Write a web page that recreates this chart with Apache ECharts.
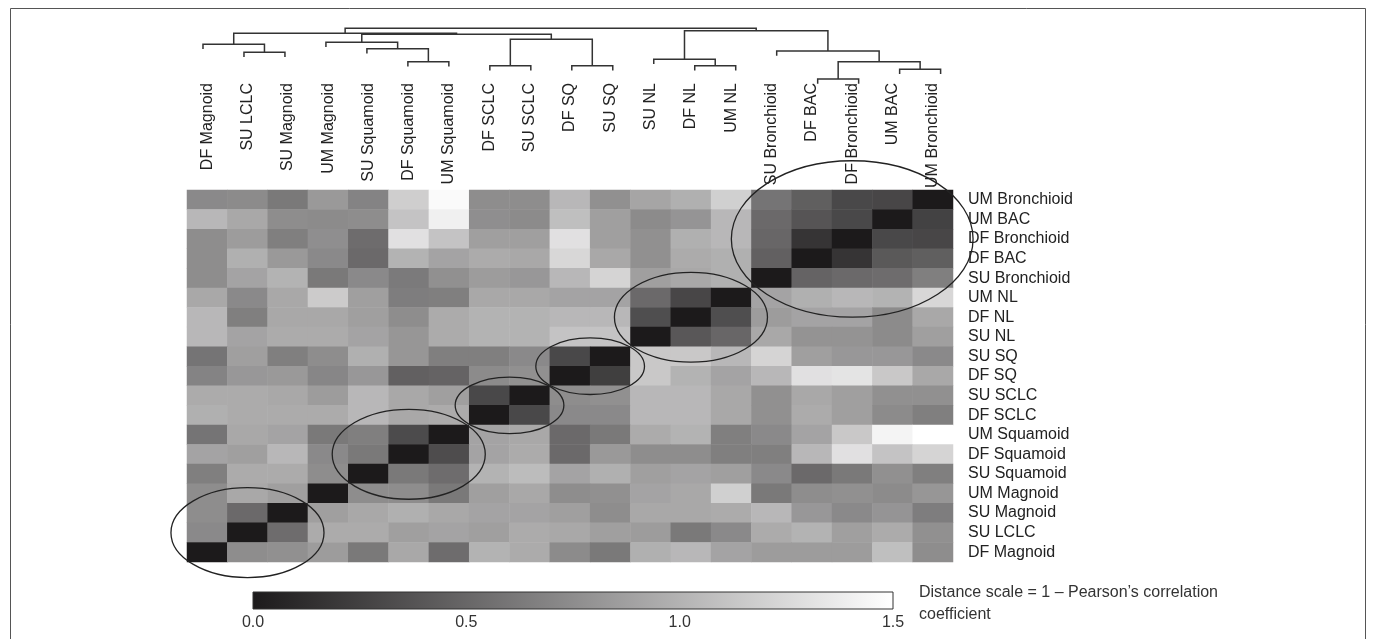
<!DOCTYPE html>
<html>
<head>
<meta charset="utf-8">
<title>Distance heatmap</title>
<script src="https://cdn.jsdelivr.net/npm/echarts@6.0.0/dist/echarts.min.js"></script>
<style>
	html, body { margin: 0; padding: 0; background: #fff; }
	#main { width: 1374px; height: 639px; }
</style>
</head>
<body>
<div id="main"></div>
<script>
// leaf order of the dendrogram, left to right (= heatmap rows bottom to top)
const leaves = ['DF Magnoid', 'SU LCLC', 'SU Magnoid', 'UM Magnoid', 'SU Squamoid', 'DF Squamoid', 'UM Squamoid',
	'DF SCLC', 'SU SCLC', 'DF SQ', 'SU SQ', 'SU NL', 'DF NL', 'UM NL',
	'SU Bronchioid', 'DF BAC', 'DF Bronchioid', 'UM BAC', 'UM Bronchioid'];

// heatmap rows as printed, top to bottom
const rowNames = ['UM Bronchioid', 'UM BAC', 'DF Bronchioid', 'DF BAC', 'SU Bronchioid', 'UM NL', 'DF NL', 'SU NL',
	'SU SQ', 'DF SQ', 'SU SCLC', 'DF SCLC', 'UM Squamoid', 'DF Squamoid', 'SU Squamoid',
	'UM Magnoid', 'SU Magnoid', 'SU LCLC', 'DF Magnoid'];

// 1 - Pearson correlation, one list per row (columns in leaf order)
const distanceRows = [
	[0.73, 0.74, 0.62, 0.83, 0.69, 1.18, 1.47, 0.75, 0.75, 1.03, 0.77, 0.91, 0.98, 1.19, 0.59, 0.45, 0.30, 0.29, 0.00],
	[1.03, 0.93, 0.75, 0.74, 0.75, 1.11, 1.40, 0.76, 0.74, 1.08, 0.87, 0.74, 0.80, 1.03, 0.52, 0.38, 0.30, 0.00, 0.26],
	[0.75, 0.85, 0.66, 0.76, 0.54, 1.30, 1.11, 0.87, 0.87, 1.30, 0.87, 0.77, 0.98, 1.03, 0.50, 0.17, 0.00, 0.30, 0.29],
	[0.75, 0.98, 0.83, 0.73, 0.52, 1.00, 0.90, 0.95, 0.93, 1.24, 0.93, 0.77, 0.95, 0.98, 0.46, 0.00, 0.17, 0.41, 0.45],
	[0.75, 0.90, 1.00, 0.62, 0.73, 0.63, 0.77, 0.85, 0.82, 1.03, 1.22, 0.87, 0.93, 0.98, 0.00, 0.48, 0.52, 0.54, 0.66],
	[0.93, 0.73, 0.93, 1.16, 0.87, 0.65, 0.66, 0.93, 0.93, 0.90, 0.90, 0.52, 0.29, 0.00, 0.90, 0.98, 1.03, 1.00, 1.24],
	[1.03, 0.66, 0.93, 0.93, 0.87, 0.75, 0.95, 1.00, 1.00, 1.03, 1.03, 0.34, 0.00, 0.34, 0.85, 0.90, 0.90, 0.74, 0.93],
	[1.03, 0.90, 0.95, 0.95, 0.90, 0.81, 0.95, 1.00, 1.00, 1.11, 1.11, 0.00, 0.40, 0.50, 0.93, 0.79, 0.79, 0.74, 0.87],
	[0.59, 0.87, 0.66, 0.75, 0.98, 0.81, 0.66, 0.66, 0.73, 0.30, 0.00, 1.14, 1.14, 1.03, 1.22, 0.87, 0.82, 0.82, 0.73],
	[0.69, 0.82, 0.83, 0.71, 0.82, 0.46, 0.48, 0.74, 0.77, 0.00, 0.24, 1.14, 1.00, 0.90, 1.03, 1.30, 1.32, 1.14, 0.93],
	[0.95, 0.95, 0.93, 0.85, 1.03, 0.93, 0.87, 0.30, 0.00, 0.75, 0.77, 1.03, 1.03, 0.93, 0.77, 0.93, 0.87, 0.77, 0.77],
	[0.98, 0.95, 0.95, 0.95, 1.03, 0.93, 0.95, 0.00, 0.30, 0.73, 0.73, 1.03, 1.03, 0.93, 0.77, 0.95, 0.87, 0.74, 0.66],
	[0.59, 0.93, 0.90, 0.62, 0.66, 0.32, 0.00, 0.90, 0.93, 0.52, 0.62, 0.95, 1.00, 0.66, 0.73, 0.90, 1.14, 1.43, 1.50],
	[0.90, 0.87, 1.03, 0.73, 0.62, 0.00, 0.33, 0.90, 0.95, 0.52, 0.83, 0.75, 0.75, 0.66, 0.66, 1.03, 1.30, 1.11, 1.22],
	[0.66, 0.95, 0.95, 0.75, 0.00, 0.62, 0.54, 1.00, 1.06, 0.90, 0.98, 0.87, 0.90, 0.87, 0.73, 0.52, 0.62, 0.77, 0.66],
	[0.75, 0.93, 0.87, 0.00, 0.75, 0.75, 0.62, 0.87, 0.93, 0.75, 0.77, 0.90, 0.93, 1.19, 0.62, 0.75, 0.77, 0.74, 0.81],
	[0.75, 0.52, 0.00, 0.87, 0.93, 0.98, 0.93, 0.90, 0.90, 0.87, 0.75, 0.93, 0.93, 0.95, 1.03, 0.82, 0.73, 0.80, 0.65],
	[0.73, 0.00, 0.54, 0.95, 0.95, 0.87, 0.90, 0.87, 0.95, 0.93, 0.87, 0.85, 0.62, 0.73, 0.95, 1.00, 0.87, 0.95, 0.77],
	[0.00, 0.75, 0.77, 0.85, 0.62, 0.93, 0.54, 1.00, 0.95, 0.74, 0.62, 0.98, 1.03, 0.90, 0.85, 0.85, 0.85, 1.08, 0.75]
];

// dendrogram merges: [id, left, right, height]
const merges = [
	['m1', 'SU LCLC', 'SU Magnoid', 0.566],
	['m2', 'DF Magnoid', 'm1', 0.709],
	['m3', 'DF Squamoid', 'UM Squamoid', 0.398],
	['m4', 'SU Squamoid', 'm3', 0.630],
	['m5', 'UM Magnoid', 'm4', 0.745],
	['m6', 'DF SCLC', 'SU SCLC', 0.327],
	['m7', 'DF SQ', 'SU SQ', 0.327],
	['m8', 'm6', 'm7', 0.798],
	['m9', 'm5', 'm8', 0.888],
	['m10', 'm2', 'm9', 0.905],
	['m11', 'DF NL', 'UM NL', 0.327],
	['m12', 'SU NL', 'm11', 0.441],
	['m13', 'DF BAC', 'DF Bronchioid', 0.089],
	['m14', 'UM BAC', 'UM Bronchioid', 0.263],
	['m15', 'm13', 'm14', 0.398],
	['m16', 'SU Bronchioid', 'm15', 0.589],
	['m17', 'm12', 'm16', 0.952],
	['m18', 'm10', 'm17', 0.995]
];

// circled clusters on the diagonal: [first leaf, last leaf]
const circledBlocks = [
	['DF Magnoid', 'SU Magnoid'],
	['SU Squamoid', 'UM Squamoid'],
	['DF SCLC', 'SU SCLC'],
	['DF SQ', 'SU SQ'],
	['SU NL', 'UM NL'],
	['SU Bronchioid', 'UM Bronchioid']
];

const scaleTicks = [0, 0.5, 1.0, 1.5];
const heatColors = ['#1c1a1b', '#ffffff'];
const font = "'Liberation Sans', Arial, Helvetica, sans-serif";

let chart = echarts.init(document.getElementById('main'));

let heatData = [];
rowNames.forEach((name, r) => {
	let yi = leaves.indexOf(name);
	distanceRows[r].forEach((v, c) => {
		heatData.push([c, yi, v]);
	});
});

// walk the merges to get the link segments
let leafHang = 0.085;
let pos = {};
leaves.forEach((name, i) => { pos[name] = {x: i, h: null}; });
let dendroData = [];
merges.forEach(m => {
	let L = pos[m[1]], R = pos[m[2]], h = m[3];
	dendroData.push([L.x, L.h === null ? h - leafHang : L.h, R.x, R.h === null ? h - leafHang : R.h, h]);
	pos[m[0]] = {x: (L.x + R.x) / 2, h: h};
});

let blockData = circledBlocks.map(b => [leaves.indexOf(b[0]), leaves.indexOf(b[1])]);

let option = {
	backgroundColor: '#fff',
	animation: false,
	textStyle: { fontFamily: font },
	grid: [
		{ left: 187, top: 190, width: 766, height: 372, containLabel: false, outerBoundsMode: 'none' },
		{ left: 182.5, top: 28, width: 778.6, height: 56, containLabel: false, outerBoundsMode: 'none' },
		{ left: 253, top: 592, width: 640, height: 17, containLabel: false, outerBoundsMode: 'none' }
	],
	xAxis: [
		{
			type: 'category', gridIndex: 0, position: 'top', data: leaves,
			axisLine: { show: false }, axisTick: { show: false }, splitLine: { show: false },
			axisLabel: {
				rotate: -90, align: 'right', verticalAlign: 'middle', margin: 107,
				interval: 0, color: '#222', fontSize: 16, fontFamily: font
			}
		},
		{ type: 'value', gridIndex: 1, min: -0.5, max: 18.5, show: false },
		{
			type: 'value', gridIndex: 2, min: 0, max: 1.5, interval: 0.5,
			axisLine: { show: false }, axisTick: { show: false }, splitLine: { show: false },
			axisLabel: { margin: 6, color: '#333', fontSize: 16, fontFamily: font, formatter: v => v.toFixed(1) }
		}
	],
	yAxis: [
		{
			type: 'category', gridIndex: 0, position: 'right', data: leaves,
			axisLine: { show: false }, axisTick: { show: false }, splitLine: { show: false },
			axisLabel: { margin: 15, interval: 0, color: '#222', fontSize: 16, fontFamily: font }
		},
		{ type: 'value', gridIndex: 1, min: 0, max: 1, show: false },
		{ type: 'value', gridIndex: 2, min: 0, max: 1, show: false }
	],
	visualMap: {
		type: 'continuous', show: false, min: 0, max: 1.5, seriesIndex: 0,
		inRange: { color: heatColors }
	},
	graphic: [
		{
			type: 'rect', silent: true, z: -1,
			shape: { x: 10.5, y: 8.5, width: 1355, height: 720 },
			style: { fill: 'none', stroke: '#555', lineWidth: 1 }
		},
		{
			type: 'text', left: 919, top: 585,
			style: { text: 'Distance scale = 1 \u2013 Pearson\u2019s correlation', font: '16px ' + font, fill: '#333' }
		},
		{
			type: 'text', left: 919, top: 607,
			style: { text: 'coefficient', font: '16px ' + font, fill: '#333' }
		}
	],
	series: [
		{
			type: 'heatmap', xAxisIndex: 0, yAxisIndex: 0, data: heatData,
			itemStyle: { borderWidth: 0 },
			emphasis: { disabled: true }
		},
		{
			type: 'custom', xAxisIndex: 0, yAxisIndex: 0, data: blockData, z: 5, silent: true,
			renderItem: function(params, api) {
				let s = api.value(0), e = api.value(1);
				let a = api.coord([s, s]), b = api.coord([e, e]);
				let size = api.size([1, 1]);
				let hw = Math.abs(b[0] - a[0]) / 2 + size[0] / 2;
				let hh = Math.abs(b[1] - a[1]) / 2 + size[1] / 2;
				return {
					type: 'ellipse',
					shape: { cx: (a[0] + b[0]) / 2, cy: (a[1] + b[1]) / 2, rx: hw * 1.1 + 10, ry: hh * 1.7 - 5 },
					style: { fill: 'none', stroke: '#222', lineWidth: 1.3 }
				};
			}
		},
		{
			type: 'custom', xAxisIndex: 1, yAxisIndex: 1, data: dendroData, silent: true,
			renderItem: function(params, api) {
				let h = api.value(4);
				let pts = [
					api.coord([api.value(0), api.value(1)]),
					api.coord([api.value(0), h]),
					api.coord([api.value(2), h]),
					api.coord([api.value(2), api.value(3)])
				];
				return {
					type: 'polyline',
					shape: { points: pts },
					style: { fill: 'none', stroke: '#333', lineWidth: 1.5 }
				};
			}
		},
		{
			type: 'custom', xAxisIndex: 2, yAxisIndex: 2, data: [[scaleTicks[0], scaleTicks[scaleTicks.length - 1]]], silent: true,
			renderItem: function(params, api) {
				let p0 = api.coord([api.value(0), 0]);
				let p1 = api.coord([api.value(1), 1]);
				return {
					type: 'rect',
					shape: { x: p0[0], y: p1[1], width: p1[0] - p0[0], height: p0[1] - p1[1] },
					style: {
						fill: new echarts.graphic.LinearGradient(0, 0, 1, 0, [
							{ offset: 0, color: heatColors[0] },
							{ offset: 1, color: heatColors[1] }
						]),
						stroke: '#333', lineWidth: 1
					}
				};
			}
		}
	]
};
chart.setOption(option);
</script>
</body>
</html>
